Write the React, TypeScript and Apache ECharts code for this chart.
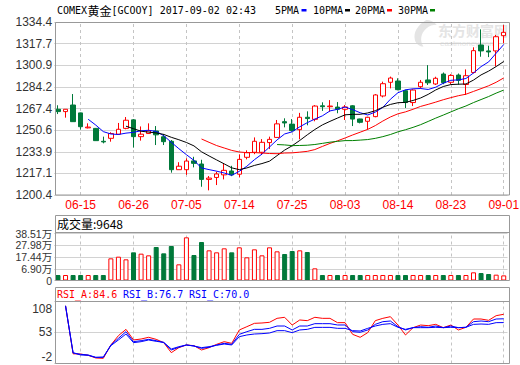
import React, { useEffect, useRef } from "react";
import * as echarts from "echarts";

const dates = ["06-12","06-13","06-14","06-15","06-16","06-19","06-20","06-21","06-22","06-23","06-26","06-27","06-28","06-29","06-30","07-03","07-04","07-05","07-06","07-07","07-10","07-11","07-12","07-13","07-14","07-17","07-18","07-19","07-20","07-21","07-24","07-25","07-26","07-27","07-28","07-31","08-01","08-02","08-03","08-04","08-07","08-08","08-09","08-10","08-11","08-14","08-15","08-16","08-17","08-18","08-21","08-22","08-23","08-24","08-25","08-28","08-29","08-30","08-31","09-01"];
const dateLabels = ["06-15","06-26","07-05","07-14","07-25","08-03","08-14","08-23","09-01"];

const opens = [1266.8,1265.0,1270.1,1264.0,1252.4,1252.0,1242.0,1244.3,1247.5,1252.0,1258.6,1245.6,1248.0,1250.0,1245.5,1242.0,1220.0,1220.0,1226.8,1224.4,1212.5,1214.0,1216.0,1219.0,1216.5,1229.6,1233.5,1233.5,1241.0,1245.0,1257.2,1255.3,1251.0,1260.6,1259.0,1269.5,1268.8,1268.5,1266.8,1269.5,1259.3,1257.5,1261.1,1277.1,1287.7,1288.7,1281.2,1272.0,1284.3,1289.5,1286.4,1294.1,1287.7,1293.3,1286.0,1295.3,1316.6,1312.0,1312.0,1323.8];
const closes = [1265.0,1266.8,1257.2,1253.3,1253.0,1242.5,1241.5,1248.0,1251.3,1258.3,1245.6,1247.5,1250.0,1247.0,1241.7,1220.0,1222.7,1226.7,1224.9,1212.5,1213.5,1216.7,1219.5,1216.0,1228.0,1233.2,1242.0,1241.2,1243.5,1255.5,1256.2,1250.3,1260.6,1259.6,1269.3,1268.8,1269.3,1266.8,1268.6,1259.2,1256.7,1260.6,1277.9,1286.6,1291.0,1282.0,1272.0,1281.7,1287.7,1287.3,1290.8,1287.4,1293.0,1289.2,1292.8,1312.2,1312.0,1311.2,1323.0,1326.4];
const lows = [1263.1,1260.3,1257.0,1251.0,1252.0,1242.3,1240.4,1241.7,1246.9,1251.3,1237.1,1242.5,1247.8,1239.1,1239.1,1217.7,1220.0,1216.0,1221.8,1206.8,1204.0,1208.1,1212.5,1215.0,1214.0,1228.0,1232.0,1231.4,1236.0,1244.8,1252.8,1249.5,1243.5,1254.4,1257.5,1265.5,1264.9,1263.7,1258.5,1253.8,1255.9,1251.0,1260.6,1276.0,1283.0,1281.5,1267.8,1269.3,1282.8,1285.6,1285.6,1286.2,1286.2,1285.8,1277.9,1294.6,1307.5,1307.2,1300.0,1318.0];
const highs = [1269.9,1266.9,1278.6,1264.2,1255.9,1252.3,1245.6,1249.0,1256.2,1260.8,1259.2,1253.5,1255.9,1253.8,1247.6,1243.0,1225.8,1228.8,1230.0,1227.7,1215.1,1218.5,1224.4,1223.0,1231.9,1235.0,1245.0,1243.7,1245.6,1258.5,1259.8,1259.2,1264.0,1265.2,1270.0,1272.2,1273.9,1272.4,1270.1,1270.0,1259.5,1261.0,1278.6,1288.2,1292.1,1290.8,1282.0,1282.3,1289.5,1301.0,1292.0,1295.3,1294.0,1294.5,1297.7,1314.8,1328.7,1316.0,1324.4,1332.0];

// volume in 万
const volumes = [1.3,1.3,1.3,1.3,1.3,1.3,1.3,16.3,17.8,15.4,21.7,20.5,19.0,26.5,20.8,27.4,10.9,35.2,19.3,31.0,23.5,21.7,25.3,21.7,26.2,17.2,24.4,19.0,26.2,22.6,20.2,22.9,23.5,22.0,7.3,1.3,1.3,1.3,1.3,1.3,1.3,1.3,1.3,1.3,1.3,1.3,1.3,1.3,1.3,1.3,1.3,1.3,1.3,1.3,1.3,3.7,3.1,2.2,1.6,0.96];

const rsiA = [null,99.5,15,14.7,12.4,7.7,7.1,30.6,47,58.1,39.4,41.1,44.1,40.5,34.7,17.1,25.9,30.6,29.4,21.8,25.9,31.7,36.4,33.5,57,62.8,68.7,69.3,70.5,77.5,79.3,65.7,74.6,73.4,79.3,77.5,77.5,69.9,69.9,49.3,44.1,52.3,73.4,77.5,80.4,65.7,48.2,61.1,65.7,64.6,66.9,61.1,65.7,57,61.7,76.3,76.3,74,82.2,84.6];
const rsiB = [null,99.5,16.5,14.1,13.0,8.8,8.8,30.6,42.3,54,36.4,38.2,40.5,38.2,34.7,21.8,26.5,30.6,28.8,24.7,26.5,30.6,33.5,31.7,49.3,54,58.1,58.1,59.9,64,64,57,64,64,68.1,68.1,68.1,65.8,65.8,54,52.9,57,66.9,71.6,72.8,62.8,57,61.1,62.8,61.7,64,61.1,64,61.1,61.7,71.6,72.8,71.6,76.3,76.7];
const rsiC = [null,99.5,17,13.0,12.4,8.8,9.4,29.4,39.4,49.9,34.7,36.4,39.4,37,35.3,23.5,27.6,30.6,28.8,25.9,27.6,30,32.3,30.6,45.2,48.2,49.9,50.5,51.7,55.8,55.8,52.3,57,58.1,61.6,61.6,61.6,59.9,59.9,55.8,55.2,59.9,64,66.9,68.1,61.7,58.1,61.1,61.1,61.1,61.7,61.1,61.7,61.1,61.7,66.9,67.5,66.9,69.9,70.0];

const priceTicks = [1200.4, 1217.1, 1233.9, 1250.6, 1267.4, 1284.2, 1300.9, 1317.7, 1334.4];
const volumeTicks = [-3.64, 6.9, 17.44, 27.98, 38.51];
const rsiTicks = [-2, 53, 108];
const maPeriods = [5, 10, 20, 30];
const maColors = ["#0000ff", "#000000", "#ff0000", "#008000"];

const RED = "#ff0000";
const GREEN = "#00793a";
const BORDER = "#999999";
const GRIDLINE = "#d2d2d2";
const MONO = '"DejaVu Sans Mono", "Noto Sans CJK SC", monospace';
const SANS = '"Liberation Sans", "Noto Sans CJK SC", sans-serif';

echarts.graphic.registerShape(
  "emLogo",
  echarts.graphic.extendPath(
    "M14 0 C5 5 0 13 2 21 C3 25 7 28 11 28 C7 22 8 14 14 9 C17 6 21 5 25 5 C22 2 18 0 14 0 Z",
    {}
  )
);

function movingAverage(n: number) {
  return closes.map((_, i) => {
    if (i < n - 1) return null;
    let s = 0;
    for (let k = i - n + 1; k <= i; k++) s += closes[k];
    return +(s / n).toFixed(2);
  });
}

const GL = 54.2;
const GW = 453.3;

export default function App() {
  const ref = useRef<HTMLDivElement>(null);
  useEffect(() => {
    if (!ref.current) return;
    const chart = echarts.init(ref.current, undefined, { renderer: "svg" });
    const vline = (z: number) => ({
      silent: true,
      symbol: ["none", "none"],
      z,
      label: { show: false },
      emphasis: { disabled: true },
      lineStyle: { type: [3, 3], color: "#c4c4c4", width: 1 },
      data: dateLabels.map((d) => ({ xAxis: d })),
    });
    const xBase = (gi: number) => ({
      type: "category",
      gridIndex: gi,
      data: dates,
      boundaryGap: true,
      axisLine: { show: false },
      axisTick: { show: false },
      splitLine: { show: false },
      axisLabel:
        gi === 0
          ? {
              interval: (_i: number, v: string) => dateLabels.includes(v),
              color: RED,
              fontSize: 12,
              fontFamily: SANS,
              margin: 4,
            }
          : { show: false },
    });
    const yLabel = {
      color: "#333",
      fontSize: 12,
      fontFamily: SANS,
      margin: 2,
      hideOverlap: false,
      showMinLabel: true,
      showMaxLabel: true,
    };
    const volLabel = { ...yLabel, fontSize: 10.5, lineHeight: 10 };
    const volFmt = (v: number) => (v < 0 ? "0" : v.toFixed(2) + "万");
    const volTicksA = volumeTicks.filter((_, i) => i % 2 === 0);
    const volTicksB = volumeTicks.filter((_, i) => i % 2 === 1);
    const option: any = {
      animation: false,
      backgroundColor: "#fff",
      grid: [
        { left: GL, top: 22, width: GW, height: 173, outerBoundsMode: "none", containLabel: false },
        { left: GL, top: 232, width: GW, height: 48.5, outerBoundsMode: "none", containLabel: false },
        { left: GL, top: 301, width: GW, height: 62.5, outerBoundsMode: "none", containLabel: false },
      ],
      xAxis: [xBase(0), xBase(1), xBase(2)],
      yAxis: [
        {
          type: "value",
          gridIndex: 0,
          min: priceTicks[0],
          max: priceTicks[priceTicks.length - 1],
          axisLine: { show: false },
          axisTick: { show: false, customValues: priceTicks },
          axisLabel: { ...yLabel, customValues: priceTicks, formatter: (v: number) => v.toFixed(1) },
          splitLine: { show: true, lineStyle: { color: GRIDLINE, width: 1 } },
        },
        {
          type: "value",
          gridIndex: 1,
          position: "left",
          offset: 0,
          min: volumeTicks[0],
          max: 40,
          startValue: volumeTicks[0],
          axisLine: { show: false },
          axisTick: { show: false, customValues: volumeTicks },
          axisLabel: { ...volLabel, customValues: volTicksA, formatter: volFmt },
          splitLine: { show: true, lineStyle: { color: GRIDLINE, width: 1 } },
        },
        {
          type: "value",
          gridIndex: 1,
          position: "left",
          offset: 0,
          min: volumeTicks[0],
          max: 40,
          axisLine: { show: false },
          axisTick: { show: false, customValues: volTicksB },
          axisLabel: { ...volLabel, customValues: volTicksB, formatter: volFmt },
          splitLine: { show: false },
        },
        {
          type: "value",
          gridIndex: 2,
          min: rsiTicks[0],
          max: rsiTicks[rsiTicks.length - 1],
          axisLine: { show: false },
          axisTick: { show: false, customValues: rsiTicks },
          axisLabel: {
            ...yLabel,
            customValues: rsiTicks,
            formatter: (v: number) => String(v),
            verticalAlignMinLabel: "bottom",
            verticalAlignMaxLabel: "top",
            padding: [2, 0, 1, 0],
          },
          splitLine: { show: true, lineStyle: { color: GRIDLINE, width: 1 } },
        },
      ],
      series: [
        {
          type: "candlestick",
          xAxisIndex: 0,
          yAxisIndex: 0,
          barWidth: 5,
          z: 3,
          itemStyle: { color: "#ffffff", color0: GREEN, borderColor: RED, borderColor0: GREEN, borderWidth: 1 },
          data: dates.map((_, i) => [opens[i], closes[i], lows[i], highs[i]]),
          markLine: vline(1),
        },
        ...maPeriods.map((n, k) => ({
          type: "line",
          name: n + "PMA",
          xAxisIndex: 0,
          yAxisIndex: 0,
          data: movingAverage(n),
          showSymbol: false,
          symbol: "none",
          z: 4,
          lineStyle: { color: maColors[k], width: 1 },
        })),
        {
          type: "bar",
          xAxisIndex: 1,
          yAxisIndex: 1,
          barWidth: 5,
          z: 3,
          data: volumes.map((v, i) => {
            const up = closes[i] >= opens[i];
            return {
              value: v,
              itemStyle: up
                ? { color: "#ffffff", borderColor: RED, borderWidth: 1 }
                : { color: GREEN, borderColor: GREEN, borderWidth: 1 },
            };
          }),
          markLine: vline(1),
        },
        {
          type: "line",
          name: "RSI_A",
          xAxisIndex: 2,
          yAxisIndex: 3,
          data: rsiA,
          showSymbol: false,
          symbol: "none",
          z: 4,
          lineStyle: { color: RED, width: 1 },
          markLine: vline(1),
        },
        {
          type: "line",
          name: "RSI_B",
          xAxisIndex: 2,
          yAxisIndex: 3,
          data: rsiB,
          showSymbol: false,
          symbol: "none",
          z: 4,
          lineStyle: { color: "#0000ff", width: 1 },
        },
        {
          type: "line",
          name: "RSI_C",
          xAxisIndex: 2,
          yAxisIndex: 3,
          data: rsiC,
          showSymbol: false,
          symbol: "none",
          z: 4,
          lineStyle: { color: "#0000ff", width: 1 },
        },
      ],
      graphic: [
        // watermark
        { type: "emLogo", x: 413, y: 20, scaleX: 0.95, scaleY: 0.95, z: -1, style: { fill: "#e4e4e4" } },
        { type: "text", x: 438, y: 30, z: -1, style: { text: "东方财富网", font: 'bold 14px "Noto Sans CJK SC"', fill: "#e4e4e4", verticalAlign: "middle" } },
        { type: "text", x: 440, y: 43, z: -1, style: { text: "eastmoney.com", font: '8px "Liberation Sans"', fill: "#e4e4e4", verticalAlign: "middle" } },
        // title
        { type: "text", x: 57, y: 10, style: { text: "COMEX", font: "10px " + MONO, fill: "#000", verticalAlign: "middle" } },
        { type: "text", x: 87.5, y: 10, style: { text: "黄金", font: '12px "Noto Sans CJK SC"', fill: "#000", verticalAlign: "middle" } },
        { type: "text", x: 111.5, y: 10, style: { text: "[GCOOY] 2017-09-02 02:43", font: "10px " + MONO, fill: "#000", verticalAlign: "middle" } },
        // legend
        { type: "text", x: 275, y: 10, style: { text: "5PMA", font: "10px " + MONO, fill: "#000", verticalAlign: "middle" } },
        { type: "rect", shape: { x: 301.5, y: 9, width: 5, height: 2.5 }, style: { fill: maColors[0] } },
        { type: "text", x: 313, y: 10, style: { text: "10PMA", font: "10px " + MONO, fill: "#000", verticalAlign: "middle" } },
        { type: "rect", shape: { x: 345, y: 9, width: 5, height: 2.5 }, style: { fill: maColors[1] } },
        { type: "text", x: 355, y: 10, style: { text: "20PMA", font: "10px " + MONO, fill: "#000", verticalAlign: "middle" } },
        { type: "rect", shape: { x: 387, y: 9, width: 5, height: 2.5 }, style: { fill: maColors[2] } },
        { type: "text", x: 398, y: 10, style: { text: "30PMA", font: "10px " + MONO, fill: "#000", verticalAlign: "middle" } },
        { type: "rect", shape: { x: 430, y: 9, width: 5, height: 2.5 }, style: { fill: maColors[3] } },
        // borders
        { type: "rect", shape: { x: 55.5, y: 22.5, width: 454, height: 172.5 }, style: { fill: "none", stroke: BORDER, lineWidth: 1 }, z: 10 },
        { type: "rect", shape: { x: 55.5, y: 215.5, width: 454, height: 65 }, style: { fill: "none", stroke: BORDER, lineWidth: 1 }, z: 10 },
        { type: "line", shape: { x1: 55.5, y1: 232.5, x2: 509.5, y2: 232.5 }, style: { stroke: BORDER, lineWidth: 1 }, z: 10 },
        { type: "rect", shape: { x: 55.5, y: 287.5, width: 454, height: 76 }, style: { fill: "none", stroke: BORDER, lineWidth: 1 }, z: 10 },
        { type: "line", shape: { x1: 55.5, y1: 301.5, x2: 509.5, y2: 301.5 }, style: { stroke: BORDER, lineWidth: 1 }, z: 10 },
        // panel headers
        { type: "text", x: 57, y: 223.5, style: { text: "成交量:9648", font: '12px "Noto Sans CJK SC"', fill: "#000", verticalAlign: "middle" } },
        { type: "text", x: 57, y: 294.5, style: { text: "RSI_A:84.6", font: "10px " + MONO, fill: RED, verticalAlign: "middle" } },
        { type: "text", x: 123, y: 294.5, style: { text: "RSI_B:76.7", font: "10px " + MONO, fill: "#0000ff", verticalAlign: "middle" } },
        { type: "text", x: 189, y: 294.5, style: { text: "RSI_C:70.0", font: "10px " + MONO, fill: "#0000ff", verticalAlign: "middle" } },
      ],
    };
    chart.setOption(option);
    return () => chart.dispose();
  }, []);
  return (
    <div
      ref={ref}
      style={{ position: "fixed", left: 0, top: 0, width: 520, height: 365, background: "#fff" }}
    />
  );
}
